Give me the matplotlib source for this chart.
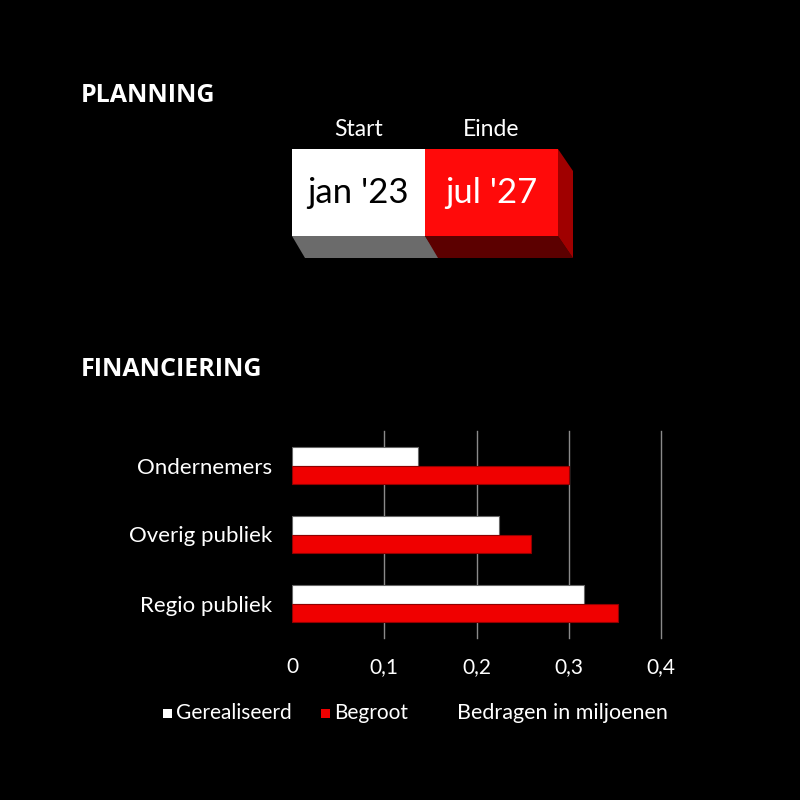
import matplotlib
matplotlib.use("Agg")
import matplotlib.pyplot as plt
from matplotlib.patches import Rectangle, Polygon

# ---- data ----
categories = ["Ondernemers", "Overig publiek", "Regio publiek"]
gerealiseerd = [0.137, 0.224, 0.317]
begroot = [0.300, 0.259, 0.353]
xticks = [0, 0.1, 0.2, 0.3, 0.4]
xtick_labels = ["0", "0,1", "0,2", "0,3", "0,4"]
plan_headers = ["Start", "Einde"]
plan_values = ["jan '23", "jul '27"]

BODY = ["Lato", "DejaVu Sans"]
TITLE = ["Open Sans", "DejaVu Sans"]
WHITE = "#ffffff"
RED = "#f00000"

fig = plt.figure(figsize=(8, 8), dpi=100, facecolor="black")

# overlay axes in pixel coordinates for the planning graphic / texts
ov = fig.add_axes([0, 0, 1, 1], zorder=0)
ov.set_xlim(0, 800)
ov.set_ylim(800, 0)
ov.axis("off")
ov.set_facecolor("black")

ov.text(81, 96, "PLANNING", color="white", fontsize=18, fontweight="bold",
        family=TITLE, va="center", ha="left")
ov.text(81, 369, "FINANCIERING", color="white", fontsize=18, fontweight="bold",
        family=TITLE, va="center", ha="left")

# planning 3D boxes
x0, xm, x1 = 292, 425, 558
yt, yb = 149, 236
dx, dy = 15, 22
# bottom faces
ov.add_patch(Polygon([(x0, yb), (xm, yb), (xm + dx, yb + dy), (x0 + dx - 2, yb + dy)],
                     closed=True, facecolor="#6b6b6b", edgecolor="none"))
ov.add_patch(Polygon([(xm, yb), (x1, yb), (x1 + dx, yb + dy), (xm + dx - 2, yb + dy)],
                     closed=True, facecolor="#5c0000", edgecolor="none"))
# right side face
ov.add_patch(Polygon([(x1, yt), (x1 + dx, yt + dy), (x1 + dx, yb + dy), (x1, yb)],
                     closed=True, facecolor="#a00000", edgecolor="none"))
# front faces
ov.add_patch(Rectangle((x0, yt), xm - x0, yb - yt, facecolor=WHITE, edgecolor="none"))
ov.add_patch(Rectangle((xm, yt), x1 - xm, yb - yt, facecolor="#ff0a0a", edgecolor="none"))
centers = [(x0 + xm) / 2, (xm + x1) / 2]
for cx, h, v, col in zip(centers, plan_headers, plan_values, ["black", "white"]):
    ov.text(cx, 130, h, color="white", fontsize=16.5, family=BODY, ha="center", va="center")
    ov.text(cx, 193, v, color=col, fontsize=25, family=BODY, ha="center", va="center")

# ---- bar chart ----
ax = fig.add_axes([292 / 800, 1 - 638 / 800, 369 / 800, 207 / 800], zorder=2)
ax.set_facecolor("none")
ypos = list(range(len(categories)))
h = 0.275
ax.barh([y - h / 2 for y in ypos], gerealiseerd, height=h, color=WHITE,
        edgecolor="#666666", linewidth=0.8, zorder=3)
ax.barh([y + h / 2 for y in ypos], begroot, height=h, color=RED,
        edgecolor="#900000", linewidth=0.8, zorder=3)
ax.set_xlim(0, 0.4)
ax.set_ylim(len(categories) - 0.5, -0.5)
ax.set_yticks(ypos)
ax.set_yticklabels(categories, color="white", fontsize=16, family=BODY)
ax.set_xticks(xticks)
ax.set_xticklabels(xtick_labels, color="white", fontsize=15, family=BODY)
ax.tick_params(length=0, pad=14, axis="y")
ax.tick_params(length=0, pad=14, axis="x")
for t in xticks[1:]:
    ax.axvline(t, color="#8a8a8a", linewidth=1.0, zorder=1, clip_on=False)
for s in ax.spines.values():
    s.set_visible(False)

# ---- legend ----
ov.add_patch(Rectangle((163, 709), 9, 9, facecolor=WHITE, edgecolor="none"))
ov.text(176, 713, "Gerealiseerd", color="white", fontsize=15, family=BODY, va="center", ha="left")
ov.add_patch(Rectangle((321, 709), 9, 9, facecolor=RED, edgecolor="none"))
ov.text(334, 713, "Begroot", color="white", fontsize=15, family=BODY, va="center", ha="left")
ov.text(457, 713, "Bedragen in miljoenen", color="white", fontsize=15.5, family=BODY,
        va="center", ha="left")

fig.savefig("out.png", dpi=100, facecolor="black")
